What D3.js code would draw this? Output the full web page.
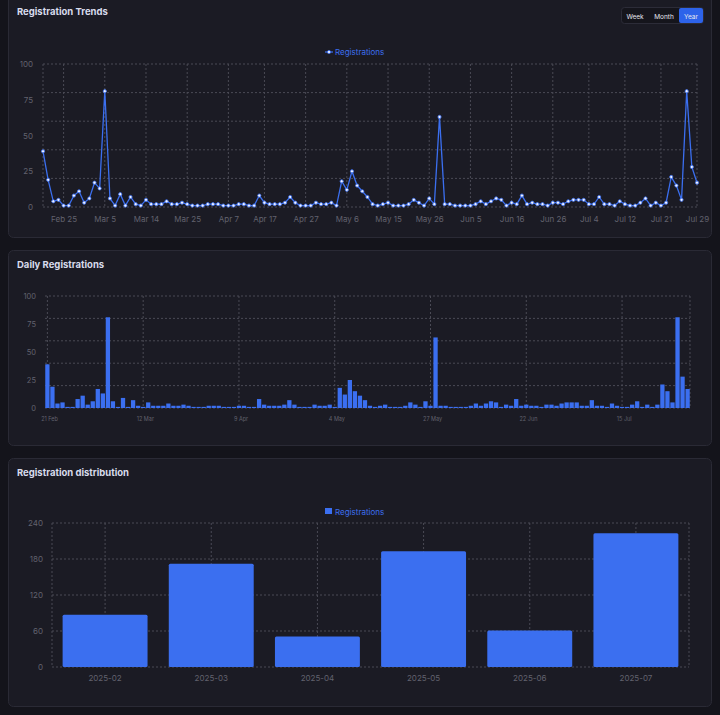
<!DOCTYPE html>
<html><head><meta charset="utf-8">
<script src="https://cdn.jsdelivr.net/npm/d3@7"></script>
<style>
body{margin:0;background:#14141b;font-family:Inter,"Noto Sans",sans-serif;}
svg{display:block}
</style></head><body>
<svg id="c" width="720" height="715"></svg>
<script>
const dailyValues=[39,19,4,5,1,1,8,11,3,6,17,13,81,6,1,9,1,7,2,1,5,2,2,2,4,2,2,3,2,1,1,1,2,2,2,1,1,1,2,2,1,1,8,
3,2,2,2,3,7,3,1,1,1,3,2,2,3,1,18,12,25,15,11,7,2,1,2,3,1,1,1,2,5,3,1,6,2,63,2,2,1,1,1,1,2,4,
2,4,6,5,1,3,2,8,2,3,2,2,1,3,3,2,4,5,5,5,2,2,7,2,2,1,4,2,1,1,3,6,1,3,1,3,21,15,5,81,28,17];
const lineTickIdx=[4,12,20,28,36,43,51,59,67,75,83,91,99,106,113,120,127];
const lineTickLabels=["Feb 25","Mar 5","Mar 14","Mar 25","Apr 7","Apr 17","Apr 27","May 6","May 15","May 26","Jun 5","Jun 16","Jun 26","Jul 4","Jul 12","Jul 21","Jul 29"];
const barTickIdx=[0,19,38,57,76,95,114];
const barTickLabels=["21 Feb","12 Mar","9 Apr","4 May","27 May","22 Jun","15 Jul"];
const months=["2025-02","2025-03","2025-04","2025-05","2025-06","2025-07"];
const monthValues=[87,172,51,193,61,223];

const BLUE="#3b6ff0", GRID="#4a4a55", TXT="#62626e";
const svg=d3.select("#c");
function panel(y,h,title){
  svg.append("rect").attr("x",8.5).attr("y",y+.5).attr("width",703).attr("height",h).attr("rx",5)
    .attr("fill","#1b1b24").attr("stroke","#2a2a35");
  svg.append("text").attr("x",17).attr("y",(y<0?15:y+18)).attr("fill","#d8dcec").attr("font-size",9.5).attr("font-weight",700).text(title);
}
panel(-6,243,"Registration Trends");
panel(250,195,"Daily Registrations");
panel(458,248,"Registration distribution");
const bg=svg.append("g");
bg.append("rect").attr("x",621.5).attr("y",7.5).attr("width",82).attr("height",16).attr("rx",3).attr("fill","#15151c").attr("stroke","#2c2c38");
bg.append("rect").attr("x",679).attr("y",8).attr("width",24).attr("height",15).attr("rx",2).attr("fill","#2d63ea");
[["Week",635],["Month",664],["Year",691]].forEach(([t,x])=>bg.append("text").attr("x",x).attr("y",18.5).attr("text-anchor","middle").attr("font-size",6.5).attr("fill","#e6e6ee").text(t));

function grid(g,x0,x1,y0,y1,xs,ys){
  g.selectAll(null).data(xs).join("line").attr("x1",d=>d).attr("x2",d=>d).attr("y1",y0).attr("y2",y1)
    .attr("stroke",GRID).attr("stroke-dasharray","2,2");
  g.selectAll(null).data(ys).join("line").attr("y1",d=>d).attr("y2",d=>d).attr("x1",x0).attr("x2",x1)
    .attr("stroke",GRID).attr("stroke-dasharray","2,2");
}
function styleAxis(a,fs){a.select(".domain").remove();a.selectAll(".tick line").remove();a.selectAll("text").attr("fill",TXT).attr("font-size",fs).attr("font-family","Inter,sans-serif");}

{
const x=d3.scaleLinear().domain([0,dailyValues.length-1]).range([43,697]);
const y=d3.scaleLinear().domain([0,100]).range([207,64]);
const g=svg.append("g");
grid(g,43,697,64,207,[x(0),...lineTickIdx.map(x)],y.ticks(4).map(y));
g.append("g").attr("transform","translate(43,0)").call(d3.axisLeft(y).tickValues([0,25,50,75,100]).tickPadding(4)).call(a=>styleAxis(a,8));
g.append("g").attr("transform","translate(0,207)").call(d3.axisBottom(x).tickValues(lineTickIdx).tickFormat((d,i)=>lineTickLabels[i]).tickPadding(3)).call(a=>styleAxis(a,8));
g.append("path").datum(dailyValues).attr("fill","none").attr("stroke",BLUE).attr("stroke-width",1.3)
  .attr("d",d3.line().x((d,i)=>x(i)).y(d=>y(d)));
g.selectAll(null).data(dailyValues).join("circle").attr("cx",(d,i)=>x(i)).attr("cy",d=>y(d)).attr("r",1.6)
  .attr("fill","#eef2ff").attr("stroke",BLUE).attr("stroke-width",0.8);
const lg=svg.append("g");
lg.append("line").attr("x1",325).attr("x2",333).attr("y1",52).attr("y2",52).attr("stroke",BLUE).attr("stroke-width",1.2);
lg.append("circle").attr("cx",329).attr("cy",52).attr("r",1.6).attr("fill","#eef2ff").attr("stroke",BLUE).attr("stroke-width",.8);
lg.append("text").attr("x",335).attr("y",55).attr("font-size",8).attr("fill",BLUE).text("Registrations");
}
{
const x=d3.scaleBand().domain(d3.range(dailyValues.length)).range([45,690]).paddingInner(0.15).paddingOuter(0.05);
const y=d3.scaleLinear().domain([0,100]).range([408,296]);
const g=svg.append("g");
grid(g,45,690,296,408,[...barTickIdx.map(i=>x(i)+x.bandwidth()/2),690],y.ticks(4).map(y));
g.append("g").attr("transform","translate(45,0)").call(d3.axisLeft(y).tickValues([0,25,50,75,100]).tickPadding(3)).call(a=>styleAxis(a,7.5));
g.selectAll(null).data(dailyValues).join("rect").attr("x",(d,i)=>x(i)).attr("width",x.bandwidth())
  .attr("y",d=>y(d)).attr("height",d=>408-y(d)).attr("fill",BLUE);
g.append("g").attr("transform","translate("+x.bandwidth()/2+",408)").call(d3.axisBottom(x).tickValues(barTickIdx).tickFormat((d,i)=>barTickLabels[i]).tickPadding(3)).call(a=>styleAxis(a,5.5));
}
{
const x=d3.scaleBand().domain(months).range([52,689]).paddingInner(0.2).paddingOuter(0.1);
const y=d3.scaleLinear().domain([0,240]).range([667,523]);
const g=svg.append("g");
grid(g,52,689,523,667,[52,...months.map(m=>x(m)+x.bandwidth()/2),689],[0,60,120,180,240].map(y));
g.append("g").attr("transform","translate(52,0)").call(d3.axisLeft(y).tickValues([0,60,120,180,240]).tickPadding(3)).call(a=>styleAxis(a,8));
g.append("g").attr("transform","translate(0,667)").call(d3.axisBottom(x).tickPadding(2)).call(a=>styleAxis(a,8));
g.selectAll(null).data(monthValues).join("rect").attr("x",(d,i)=>x(months[i])).attr("width",x.bandwidth())
  .attr("y",d=>y(d)).attr("height",d=>667-y(d)).attr("rx",1.5).attr("fill",BLUE);
svg.append("rect").attr("x",325).attr("y",508).attr("width",7).attr("height",6).attr("fill",BLUE);
svg.append("text").attr("x",335).attr("y",515).attr("font-size",8).attr("fill",BLUE).text("Registrations");
}
</script></body></html>
